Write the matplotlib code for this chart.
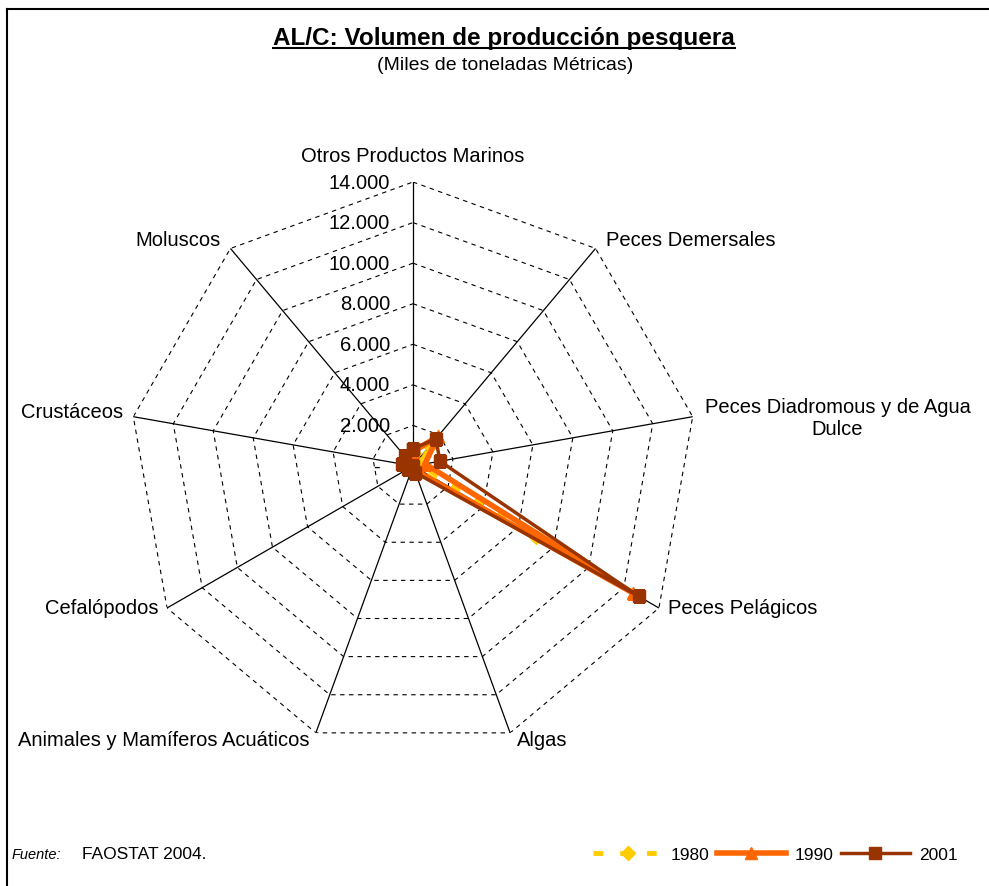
import numpy as np
import matplotlib
matplotlib.use('Agg')
import matplotlib.pyplot as plt
from matplotlib.lines import Line2D

plt.rcParams['font.family'] = ['Liberation Sans', 'DejaVu Sans']

# categories clockwise from the top
categories = ['Otros Productos Marinos', 'Peces Demersales',
              'Peces Diadromous y de Agua\nDulce', 'Peces Pelágicos', 'Algas',
              'Animales y Mamíferos Acuáticos', 'Cefalópodos', 'Crustáceos',
              'Moluscos']

# miles de toneladas
vals_1980 = [400, 1300, 350, 7000, 100, 10, 100, 350, 500]
vals_1990 = [700, 1900, 600, 12500, 200, 10, 150, 450, 600]
vals_2001 = [850, 1750, 1350, 12850, 350, 10, 300, 550, 650]

levels = [0, 2000, 4000, 6000, 8000, 10000, 12000, 14000]
level_labels = ['-', '2.000', '4.000', '6.000', '8.000', '10.000', '12.000', '14.000']

# label offsets in pixels from the end of each spoke
label_off = [(0, 27), (10, 9), (12, -1), (9, 0), (7, -7), (-6, -7), (-9, 0), (-10, 5), (-10, 9)]
label_ha = ['center', 'left', 'left', 'left', 'left', 'right', 'right', 'right', 'right']

W, H = 989, 887
fig = plt.figure(figsize=(W / 100, H / 100), dpi=100)

cx, cy, rad = 413, 467, 284
ax = fig.add_axes([(cx - rad) / W, (H - cy - rad) / H, 2 * rad / W, 2 * rad / H],
                  projection='polar')
ax.set_theta_zero_location('N')
ax.set_theta_direction(-1)
ax.set_ylim(0, 14000)
ax.set_xticks([])
ax.set_yticks([])
ax.grid(False)
ax.spines['polar'].set_visible(False)
ax.patch.set_visible(False)

n = len(categories)
angles = np.linspace(0, 2 * np.pi, n, endpoint=False)
closed = np.append(angles, angles[0])

# polygon grid
for lev in levels[1:]:
	ax.plot(closed, [lev] * (n + 1), color='black', lw=0.8, ls=(0, (4, 4)), zorder=1)

# spokes
for a in angles:
	ax.plot([a, a], [0, levels[-1]], color='black', lw=0.9, zorder=1)

# tick labels on the top spoke
for lev, lab in zip(levels, level_labels):
	dx = -33 if lab == '-' else -23
	ax.annotate(lab, xy=(0, lev), xytext=(dx, 0), textcoords='offset pixels',
	            ha='right', va='center', fontsize=14.5, annotation_clip=False)

# category labels
for i in range(n):
	ax.annotate(categories[i], xy=(angles[i], levels[-1]), xytext=label_off[i],
	            textcoords='offset pixels', ha=label_ha[i], va='center',
	            multialignment='center', fontsize=14.5, annotation_clip=False)

l80, = ax.plot(closed, vals_1980 + vals_1980[:1], color='#FFCC00', lw=3.5,
               ls=(0, (2, 3.5)), marker='D', ms=7, zorder=3, label='1980')
l90, = ax.plot(closed, vals_1990 + vals_1990[:1], color='#FF6600', lw=4,
               marker='^', ms=9, zorder=4, label='1990')
l01, = ax.plot(closed, vals_2001 + vals_2001[:1], color='#993300', lw=2.5,
               marker='s', ms=8, zorder=5, label='2001')

fig.legend(handles=[l80, l90, l01], loc='center right',
           bbox_to_anchor=(973 / W, (H - 855) / H), ncol=3, frameon=False,
           fontsize=12.5, handlelength=4, handletextpad=0.5, columnspacing=0.4)

# titles
t = fig.text(504 / W, 1 - 38 / H, 'AL/C: Volumen de producción pesquera',
             ha='center', va='center', fontsize=17.5, fontweight='bold')
fig.text(505 / W, 1 - 66 / H, '(Miles de toneladas Métricas)',
         ha='center', va='center', fontsize=14)

fig.text(12 / W, 1 - 855 / H, 'Fuente:', ha='left', va='center',
         fontsize=10.5, style='italic')
fig.text(82 / W, 1 - 855 / H, 'FAOSTAT 2004.', ha='left', va='center', fontsize=12.5)

# underline the title
fig.canvas.draw()
bb = t.get_window_extent().transformed(fig.transFigure.inverted())
fig.add_artist(Line2D([bb.x0, bb.x1], [bb.y0 + 1 / H, bb.y0 + 1 / H],
                      transform=fig.transFigure, color='black', lw=1.5))

# outer frame
fig.add_artist(Line2D([7 / W, 1], [1 - 10 / H, 1 - 10 / H], transform=fig.transFigure,
                      color='black', lw=1.5))
fig.add_artist(Line2D([7 / W, 7 / W], [0, 1 - 10 / H], transform=fig.transFigure,
                      color='black', lw=1.5))

fig.savefig('out.png', dpi=100)
